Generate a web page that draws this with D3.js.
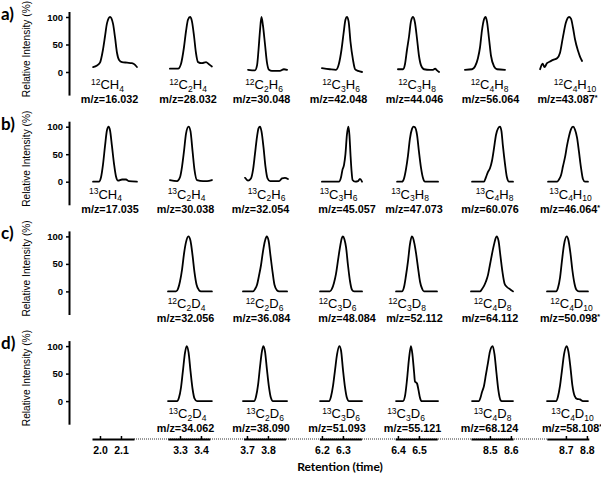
<!DOCTYPE html>
<html><head><meta charset="utf-8">
<script src="https://cdn.jsdelivr.net/npm/d3@7"></script>
<style>body{margin:0;background:#fff} svg{display:block}</style>
</head><body><svg id="c" width="601" height="477"></svg>
<script>
// ---------------- DATA ----------------
const panelLabels = ["a)", "b)", "c)", "d)"];
const isotopes = ["12", "13", "12", "13"];
const formulasA = ["CH4", "C2H4", "C2H6", "C3H6", "C3H8", "C4H8", "C4H10"];
const formulasB = ["CH4", "C2H4", "C2H6", "C3H6", "C3H8", "C4H8", "C4H10"];
const formulasC = [null, "C2D4", "C2D6", "C3D6", "C3D8", "C4D8", "C4D10"];
const formulasD = [null, "C2D4", "C2D6", "C3D6", "C3D6", "C4D8", "C4D10"];
const mzA = ["16.032", "28.032", "30.048", "42.048", "44.046", "56.064", "43.087*"];
const mzB = ["17.035", "30.038", "32.054", "45.057", "47.073", "60.076", "46.064*"];
const mzC = [null, "32.056", "36.084", "48.084", "52.112", "64.112", "50.098*"];
const mzD = [null, "34.062", "38.090", "51.093", "55.121", "68.124", "58.108*"];
const yTicks = [0, 50, 100];
const yDomain = [-42, 110];
const segStarts = [1.962, 3.242, 3.684, 6.188, 6.387, 8.410, 8.609];
const segSpan = 0.2;
const segTicks = [[2.0, 2.1], [3.3, 3.4], [3.7, 3.8], [6.2, 6.3], [6.4, 6.5], [8.5, 8.6], [8.7, 8.8]];
const yTitle = "Relative Intensity (%)";
const xTitle = "Retention (time)";

// [retention time, relative intensity %]
const peaksA = [
  [[1.967,9],[1.986,12],[2.000,17],[2.014,40],[2.024,65],[2.033,88],[2.048,100],[2.062,88],[2.072,62],[2.081,35],[2.091,22],[2.105,18],[2.129,17],[2.152,16],[2.167,13],[2.176,9]],
  [[3.252,6],[3.291,6],[3.305,15],[3.319,45],[3.329,75],[3.338,95],[3.348,100],[3.357,92],[3.367,65],[3.376,35],[3.386,18],[3.405,16],[3.424,18],[3.438,14],[3.452,10]],
  [[3.705,4],[3.738,3],[3.748,12],[3.755,40],[3.762,75],[3.769,100],[3.776,85],[3.786,50],[3.795,18],[3.805,4],[3.819,2],[3.857,2],[3.876,5],[3.891,4]],
  [[6.200,7],[6.238,5],[6.267,4],[6.281,15],[6.293,40],[6.303,70],[6.312,95],[6.319,100],[6.327,92],[6.336,55],[6.348,22],[6.358,5],[6.372,2],[6.391,0]],
  [[6.400,5],[6.424,5],[6.434,15],[6.443,40],[6.453,65],[6.462,92],[6.472,100],[6.481,90],[6.491,60],[6.500,30],[6.510,12],[6.524,5],[6.553,4],[6.567,4],[6.577,6],[6.586,3],[6.596,0]],
  [[8.381,4],[8.415,5],[8.429,10],[8.443,25],[8.453,45],[8.462,75],[8.472,96],[8.479,100],[8.486,92],[8.496,60],[8.505,30],[8.520,10],[8.534,5],[8.572,4]],
  [[8.577,5],[8.589,15],[8.598,9],[8.610,16],[8.624,19],[8.639,22],[8.658,25],[8.672,35],[8.686,64],[8.700,90],[8.715,100],[8.724,97],[8.734,80],[8.743,60],[8.758,38],[8.767,28],[8.777,20]]
];
const peaksB = [
  [[1.967,0],[1.995,0],[2.005,8],[2.014,30],[2.024,65],[2.033,93],[2.041,100],[2.048,93],[2.057,65],[2.067,32],[2.076,10],[2.086,2],[2.105,4],[2.124,4],[2.138,1],[2.176,0]],
  [[3.252,3],[3.286,1],[3.300,8],[3.310,28],[3.319,55],[3.329,88],[3.341,100],[3.350,92],[3.360,55],[3.369,22],[3.381,3],[3.410,1],[3.429,1],[3.452,3]],
  [[3.691,7],[3.705,2],[3.719,6],[3.729,22],[3.738,50],[3.748,82],[3.755,97],[3.762,100],[3.769,92],[3.779,62],[3.788,28],[3.798,6],[3.810,1],[3.853,1],[3.867,6],[3.881,7],[3.895,5]],
  [[6.200,0],[6.281,0],[6.291,8],[6.298,22],[6.305,30],[6.312,50],[6.319,85],[6.326,100],[6.331,85],[6.336,50],[6.341,20],[6.346,3],[6.358,0],[6.372,1],[6.381,5],[6.391,0]],
  [[6.396,0],[6.419,0],[6.429,6],[6.438,22],[6.448,48],[6.457,78],[6.467,96],[6.474,100],[6.481,99],[6.491,85],[6.500,55],[6.510,25],[6.519,7],[6.529,0],[6.591,0]],
  [[8.415,0],[8.472,0],[8.481,8],[8.491,18],[8.500,24],[8.510,38],[8.520,62],[8.529,85],[8.539,97],[8.548,100],[8.555,92],[8.562,65],[8.572,32],[8.581,8],[8.591,0],[8.610,0]],
  [[8.615,0],[8.658,0],[8.667,4],[8.677,12],[8.686,28],[8.696,45],[8.705,65],[8.715,83],[8.724,95],[8.734,100],[8.743,95],[8.753,80],[8.762,55],[8.772,25],[8.781,5],[8.791,0],[8.805,0]]
];
const peaksC = [
  null,
  [[3.243,0],[3.281,0],[3.291,5],[3.300,18],[3.310,40],[3.319,68],[3.329,90],[3.340,100],[3.350,92],[3.360,65],[3.369,35],[3.379,12],[3.391,2],[3.400,0],[3.452,0]],
  [[3.681,0],[3.729,0],[3.738,4],[3.748,12],[3.757,28],[3.767,48],[3.776,72],[3.786,92],[3.794,100],[3.803,92],[3.812,65],[3.822,35],[3.831,12],[3.843,2],[3.853,0],[3.891,0]],
  [[6.191,0],[6.238,0],[6.248,5],[6.257,15],[6.267,32],[6.276,55],[6.286,80],[6.295,97],[6.300,100],[6.307,95],[6.315,80],[6.324,48],[6.334,18],[6.343,3],[6.353,0],[6.391,0]],
  [[6.391,0],[6.419,0],[6.429,8],[6.438,28],[6.448,55],[6.457,85],[6.466,100],[6.472,97],[6.479,86],[6.486,70],[6.496,42],[6.505,18],[6.515,5],[6.524,0],[6.586,0]],
  [[8.410,0],[8.453,0],[8.462,4],[8.472,10],[8.481,18],[8.491,30],[8.500,48],[8.510,68],[8.520,86],[8.532,100],[8.541,92],[8.550,65],[8.560,35],[8.570,14],[8.581,8],[8.596,4],[8.610,0]],
  [[8.610,0],[8.653,0],[8.662,6],[8.672,25],[8.681,55],[8.691,85],[8.704,100],[8.712,93],[8.722,68],[8.731,38],[8.741,14],[8.750,3],[8.762,0],[8.805,0]]
];
const peaksD = [
  null,
  [[3.243,0],[3.286,0],[3.295,6],[3.305,25],[3.314,55],[3.324,88],[3.332,100],[3.341,88],[3.350,55],[3.360,22],[3.369,5],[3.381,0],[3.452,0]],
  [[3.681,0],[3.734,0],[3.743,8],[3.753,30],[3.762,62],[3.772,92],[3.778,100],[3.786,90],[3.795,58],[3.805,25],[3.814,6],[3.824,0],[3.891,0]],
  [[6.191,0],[6.234,0],[6.243,8],[6.253,28],[6.262,55],[6.272,85],[6.283,100],[6.291,92],[6.300,58],[6.310,25],[6.319,6],[6.329,0],[6.391,0]],
  [[6.391,0],[6.424,0],[6.434,10],[6.443,38],[6.453,78],[6.462,100],[6.469,85],[6.477,52],[6.481,36],[6.491,32],[6.498,20],[6.505,6],[6.512,0],[6.591,0]],
  [[8.415,0],[8.448,0],[8.455,6],[8.462,16],[8.472,28],[8.481,48],[8.491,70],[8.500,90],[8.513,100],[8.522,85],[8.531,52],[8.541,18],[8.550,2],[8.557,0],[8.610,0]],
  [[8.610,0],[8.653,0],[8.662,8],[8.672,28],[8.681,55],[8.691,85],[8.704,100],[8.712,90],[8.722,60],[8.731,28],[8.741,10],[8.753,4],[8.767,3],[8.781,0],[8.805,0]]
];

// ---------------- LAYOUT ----------------
const L = {
  rowZero0: 72, rowStep: 109.7, pxPerPct: 0.55,
  segX0: 92, segStep: 75.8, segW: 42,
  axisX: 69, xAxisY: 439,
  formulaDy: 17, mzDy: 31,
  yLabelX: 30, yLabelDy: -23,
  panelLabelX: 1, panelLabelDy: -52,
  xTitleX: 340, xTitleY: 471,
  formulaX: [
    [107.5, 188, 264, 341, 417, 489.5, 575],
    [105.5, 186.5, 266.5, 338.5, 410, 494.5, 570.5],
    [0, 186.5, 264.5, 337.5, 407, 492.5, 571.5],
    [0, 187.5, 265, 341, 406, 492.5, 572.5]
  ],
  mzX: [
    [109.5, 188, 261.5, 338.5, 414.5, 490.5, 567.5],
    [110, 185.5, 260.5, 347, 414, 490, 570],
    [0, 185.5, 261.5, 347, 414.5, 490, 570],
    [0, 185.5, 261, 337, 412.5, 489.5, 572]
  ]
};
const ARIAL = "Liberation Sans, Arial, Helvetica, sans-serif";
const CAL = "Lato, Open Sans, sans-serif";

// ---------------- DRAW ----------------
const svg = d3.select("#c");
const allPeaks = [peaksA, peaksB, peaksC, peaksD];
const allFormulas = [formulasA, formulasB, formulasC, formulasD];
const allMz = [mzA, mzB, mzC, mzD];

const rowZero = r => L.rowZero0 + r * L.rowStep;
const yScales = [0, 1, 2, 3].map(r => d3.scaleLinear().domain(yDomain)
  .range([rowZero(r) - yDomain[0] * L.pxPerPct, rowZero(r) - yDomain[1] * L.pxPerPct]));
const xScales = segStarts.map((s, i) => d3.scaleLinear().domain([s, s + segSpan])
  .range([L.segX0 + i * L.segStep, L.segX0 + i * L.segStep + L.segW]));

// Y axes, titles, panel labels
yScales.forEach((y, r) => {
  const g = svg.append("g").attr("transform", `translate(${L.axisX},0)`)
    .call(d3.axisLeft(y).tickValues(yTicks).tickSize(3).tickSizeOuter(0).tickPadding(3));
  g.select(".domain").attr("stroke", "#000").attr("stroke-width", 2);
  g.selectAll(".tick line").attr("stroke", "#000").attr("stroke-width", 1.5);
  g.selectAll(".tick text").attr("font-family", ARIAL).attr("font-weight", "bold")
    .attr("font-size", 9.5).attr("fill", "#000");

  svg.append("text")
    .attr("transform", `translate(${L.yLabelX},${rowZero(r) + L.yLabelDy}) rotate(-90)`)
    .attr("text-anchor", "middle").attr("font-family", ARIAL).attr("font-size", 10.2)
    .attr("fill", "#000").text(yTitle);

  svg.append("text").attr("x", L.panelLabelX).attr("y", rowZero(r) + L.panelLabelDy)
    .attr("font-family", CAL).attr("font-weight", "bold").attr("font-size", 17)
    .attr("fill", "#000").text(panelLabels[r]);
});

// Peaks
allPeaks.forEach((row, r) => row.forEach((pk, c) => {
  if (!pk) return;
  const line = d3.line().x(d => xScales[c](d[0])).y(d => yScales[r](d[1])).curve(d3.curveMonotoneX);
  svg.append("path").attr("d", line(pk)).attr("fill", "none").attr("stroke", "#000")
    .attr("stroke-width", 1.8).attr("stroke-linejoin", "round").attr("stroke-linecap", "round");
}));

// Labels
function formula(sel, iso, body) {
  let shift = 0;
  const put = (txt, size, target) => {
    sel.append("tspan").attr("font-size", size).attr("dy", target - shift).text(txt);
    shift = target;
  };
  put(iso, 8.5, -4.5);
  body.match(/[A-Z][a-z]?|\d+/g).forEach(tok => {
    if (/\d/.test(tok)) put(tok, 8.5, 2.5); else put(tok, 13, 0);
  });
}
allFormulas.forEach((row, r) => row.forEach((f, c) => {
  if (!f) return;
  const t = svg.append("text").attr("x", L.formulaX[r][c]).attr("y", rowZero(r) + L.formulaDy)
    .attr("text-anchor", "middle").attr("font-family", ARIAL).attr("fill", "#000");
  formula(t, isotopes[r], f);
}));
allMz.forEach((row, r) => row.forEach((m, c) => {
  if (!m) return;
  const t = svg.append("text").attr("x", L.mzX[r][c]).attr("y", rowZero(r) + L.mzDy)
    .attr("text-anchor", "middle").attr("font-family", ARIAL).attr("font-weight", "bold")
    .attr("font-size", 10.8).attr("fill", "#000");
  const star = m.endsWith("*");
  t.append("tspan").text("m/z=" + m.replace("*", ""));
  if (star) t.append("tspan").attr("font-size", 7).attr("dy", -3).text("*");
}));

// Broken X axis
svg.append("line")
  .attr("x1", xScales[0].range()[1]).attr("x2", xScales[xScales.length - 1].range()[0])
  .attr("y1", L.xAxisY).attr("y2", L.xAxisY)
  .attr("stroke", "#333").attr("stroke-width", 1).attr("stroke-dasharray", "1,1");
xScales.forEach((x, i) => {
  const g = svg.append("g").attr("transform", `translate(0,${L.xAxisY})`)
    .call(d3.axisBottom(x).tickValues(segTicks[i]).tickSizeInner(-3).tickSizeOuter(0)
      .tickPadding(8).tickFormat(d3.format(".1f")));
  g.select(".domain").attr("stroke", "#000").attr("stroke-width", 2);
  g.selectAll(".tick line").attr("stroke", "#000").attr("stroke-width", 1.5);
  g.selectAll(".tick text").attr("font-family", ARIAL).attr("font-weight", "bold")
    .attr("font-size", 10.5).attr("fill", "#000");
});
svg.append("text").attr("x", L.xTitleX).attr("y", L.xTitleY).attr("text-anchor", "middle")
  .attr("font-family", CAL).attr("font-weight", "bold").attr("font-size", 12)
  .attr("fill", "#000").text(xTitle);
</script>
</body></html>
